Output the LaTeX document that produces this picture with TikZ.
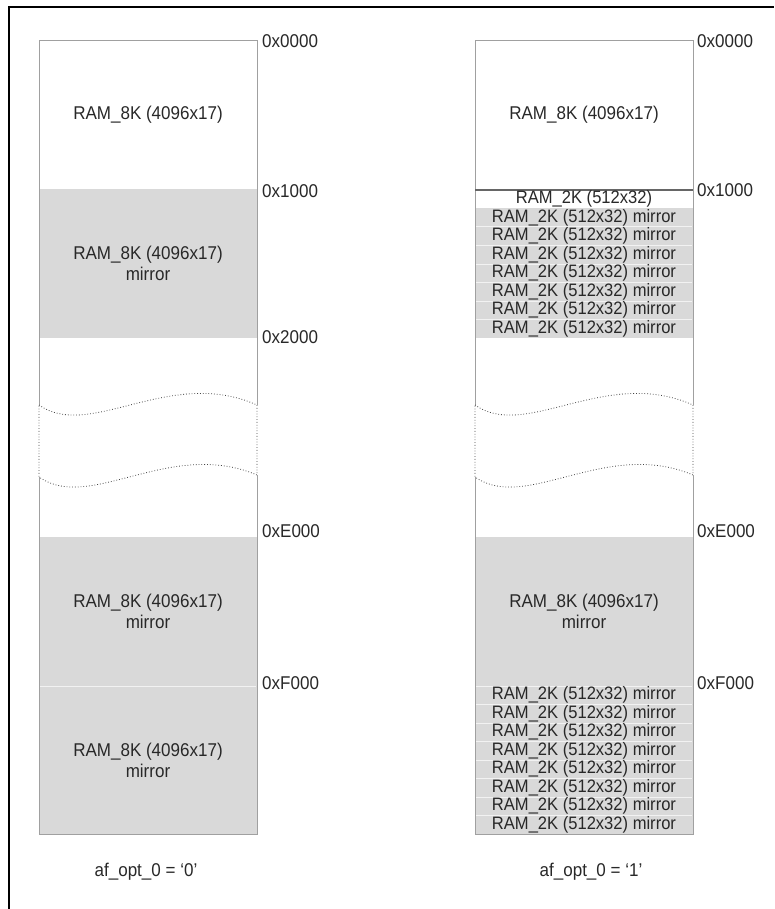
\documentclass[tikz,border=0pt]{standalone}
\usepackage{fontspec}
\setmainfont[FakeStretch=0.92]{Liberation Sans}
\definecolor{memgray}{RGB}{217,217,217}
\definecolor{edgegray}{RGB}{160,160,160}
\definecolor{sepline}{RGB}{242,242,242}
\definecolor{dotgray}{RGB}{70,70,70}
\definecolor{txt}{RGB}{40,40,40}
\begin{document}
\begin{tikzpicture}[x=1pt,y=-1pt,
  every node/.style={font=\fontsize{18.5}{21}\selectfont, inner sep=0pt, text=txt},
  addr/.style={anchor=west},
  cell/.style={align=center},
  rowtxt/.style={font=\fontsize{18}{18}\selectfont},
  outline/.style={draw=edgegray, line width=1pt},
  sep/.style={draw=sepline, line width=1pt},
  dots/.style={draw=dotgray, dotted, line width=0.8pt},
  frame/.style={draw=black, line width=2.5pt}]
\useasboundingbox (0,0) rectangle (774,909);
% outer frame
\draw[frame] (9,909) -- (9,7) -- (774,7);

% ---------------- left column ----------------
\fill[memgray] (39,189) rectangle (257,338);
\fill[memgray] (39,537) rectangle (257,834);
\draw[sep] (40,686) -- (256,686);
\draw[outline] (39,405) -- (39,41) -- (257,41) -- (257,405);
\draw[outline] (39,477) -- (39,834) -- (257,834) -- (257,475);
\draw[dots] (39,405) .. controls (90,441) and (170,366) .. (257,405) -- (257,475)
  .. controls (170,438) and (90,513) .. (39,477) -- cycle;

\node (l1) at (148,115) {RAM\_8K (4096x17)};
\node[cell] (l2) at (148,263) {RAM\_8K (4096x17)\\mirror};
\node[cell] (l3) at (148,611) {RAM\_8K (4096x17)\\mirror};
\node[cell] (l4) at (148,760) {RAM\_8K (4096x17)\\mirror};

\node[addr] (la0) at (262,41) {0x0000};
\node[addr] (la1) at (262,191) {0x1000};
\node[addr] (la2) at (262,337) {0x2000};
\node[addr] (la3) at (262,531) {0xE000};
\node[addr] (la4) at (262,683) {0xF000};
\node (lopt) at (146,872) {af\_opt\_0 = ‘0’};

% ---------------- right column ----------------
\fill[memgray] (475,208.5) rectangle (693,338);
\fill[memgray] (475,537) rectangle (693,834);
\foreach \k in {2,...,7} { \draw[sep] (476,{190+18.5*\k}) -- (692,{190+18.5*\k}); }
\foreach \k in {0,...,7} { \draw[sep] (476,{686+18.5*\k}) -- (692,{686+18.5*\k}); }
\draw[outline] (475,405) -- (475,41) -- (693,41) -- (693,405);
\draw[outline] (475,477) -- (475,834) -- (693,834) -- (693,475);
\draw[line width=1.6pt, draw=black!60] (475,190) -- (693,190);
\draw[dots] (475,405) .. controls (526,441) and (606,366) .. (693,405) -- (693,475)
  .. controls (606,438) and (526,513) .. (475,477) -- cycle;

\node (r1) at (584,115) {RAM\_8K (4096x17)};
\node[rowtxt] (r2k0) at (584,{190+18.5*0.5}) {RAM\_2K (512x32)};
\foreach \k in {1,...,7} {
  \node[rowtxt] (r2k\k) at (584,{190+18.5*(\k+0.5)}) {RAM\_2K (512x32) mirror};
}
\node[cell] (r3) at (584,611) {RAM\_8K (4096x17)\\mirror};
\foreach \k in {0,...,7} {
  \node[rowtxt] (rb\k) at (584,{686+18.5*(\k+0.5)}) {RAM\_2K (512x32) mirror};
}

\node[addr] (ra0) at (697,41) {0x0000};
\node[addr] (ra1) at (697,190) {0x1000};
\node[addr] (ra3) at (697,531) {0xE000};
\node[addr] (ra4) at (697,683) {0xF000};
\node (ropt) at (591,872) {af\_opt\_0 = ‘1’};
\end{tikzpicture}
\end{document}
